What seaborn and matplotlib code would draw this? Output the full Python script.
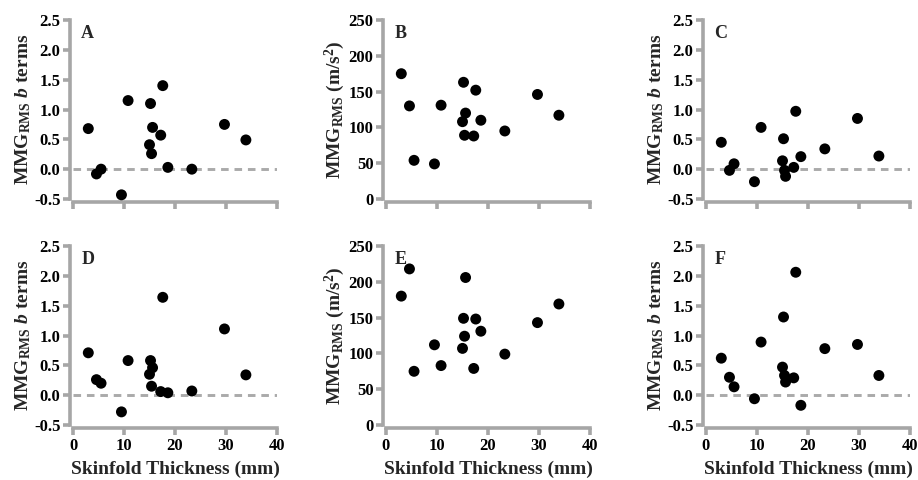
import numpy as np
import pandas as pd
import matplotlib
matplotlib.use('Agg')
import matplotlib.pyplot as plt
import seaborn as sns

# skinfold thickness (mm) of the 15 subjects
skinfold = [3.0, 4.6, 5.5, 9.5, 10.8, 15.0, 15.2, 15.4, 15.6, 17.2, 17.6, 18.6, 23.3, 29.7, 33.9]

# y values per panel (same subject order as skinfold)
a_vals = [0.68, -0.08, 0.0, -0.43, 1.15, 0.41, 1.10, 0.26, 0.70, 0.57, 1.40, 0.03, 0.0, 0.75, 0.49]
b_vals = [175, 130, 54, 49, 131, 108, 163, 89, 120, 88, 152, 110, 95, 146, 117]
c_vals = [0.45, -0.02, 0.09, -0.21, 0.70, 0.14, 0.51, -0.02, -0.12, 0.03, 0.97, 0.21, 0.34, 0.85, 0.22]
d_vals = [0.71, 0.26, 0.20, -0.28, 0.58, 0.35, 0.58, 0.15, 0.46, 0.06, 1.64, 0.04, 0.07, 1.11, 0.34]
e_vals = [180, 218, 75, 112, 83, 107, 149, 124, 206, 79, 148, 131, 99, 143, 169]
f_vals = [0.62, 0.30, 0.14, -0.06, 0.89, 0.47, 1.31, 0.33, 0.22, 0.29, 2.06, -0.17, 0.78, 0.85, 0.33]

panel_letters = ['A', 'B', 'C', 'D', 'E', 'F']
panel_vals = [a_vals, b_vals, c_vals, d_vals, e_vals, f_vals]

b_label = r'MMG$_{\rm RMS}$ $\it{b}$ terms'
acc_label = r'MMG$_{\rm RMS}$ (m/s$^{2}$)'
x_label = 'Skinfold Thickness (mm)'

sns.set_style('ticks')
plt.rcParams['font.family'] = ['Liberation Serif', 'DejaVu Serif']
plt.rcParams['font.weight'] = 'bold'
plt.rcParams['mathtext.fontset'] = 'custom'
plt.rcParams['mathtext.rm'] = 'Liberation Serif:bold'
plt.rcParams['mathtext.it'] = 'Liberation Serif:italic:bold'
plt.rcParams['mathtext.bf'] = 'Liberation Serif:bold'

grey = '#a6a6a6'

fig = plt.figure(figsize=(9.18, 4.8), dpi=100)

W, H = 918, 480
lefts = [73, 386, 706]
tops = [20, 246]
w, h = 204, 179

for i, (letter, vals) in enumerate(zip(panel_letters, panel_vals)):
    row, col = divmod(i, 3)
    l, t = lefts[col], tops[row]
    ax = fig.add_axes([l / W, (H - t - h) / H, w / W, h / H])

    df = pd.DataFrame({'skinfold': skinfold, 'val': vals})
    is_acc = col == 1

    # zero reference line only on the b-term panels
    if not is_acc:
        ax.axhline(0, color='#aaaaaa', lw=2.1, ls=(0, (2.6, 2.0)), zorder=1)
    sns.scatterplot(data=df, x='skinfold', y='val', ax=ax, color='black',
                    s=62, edgecolor='none', zorder=3, clip_on=False)

    ax.set_xlim(0, 40)
    ax.set_xticks([0, 10, 20, 30, 40])
    if is_acc:
        ax.set_ylim(0, 250)
        ax.set_yticks([0, 50, 100, 150, 200, 250])
        ax.set_ylabel(acc_label, fontsize=14, fontweight='bold', labelpad=1)
    else:
        ax.set_ylim(-0.5, 2.5)
        ax.set_yticks([-0.5, 0.0, 0.5, 1.0, 1.5, 2.0, 2.5])
        ax.set_yticklabels(['-0.5', '0.0', '0.5', '1.0', '1.5', '2.0', '2.5'])
        ax.set_ylabel(b_label, fontsize=14, fontweight='bold', labelpad=1)

    if row == 1:
        ax.set_xlabel(x_label, fontsize=14, fontweight='bold', labelpad=5)
        ax.tick_params(axis='x', labelbottom=True)
    else:
        ax.set_xlabel('')
        ax.tick_params(axis='x', labelbottom=False)

    for side in ['top', 'right']:
        ax.spines[side].set_visible(False)
    for side in ['left', 'bottom']:
        ax.spines[side].set_color(grey)
        ax.spines[side].set_linewidth(2.6)
        ax.spines[side].set_position(('outward', 2))
    ax.tick_params(colors='black', length=5, width=2.6, labelsize=12, pad=2)
    ax.tick_params(axis='both', color=grey)
    for lab in ax.get_xticklabels() + ax.get_yticklabels():
        lab.set_fontweight('bold')

    ax.text(0.04, 0.97, letter, transform=ax.transAxes, fontsize=13,
            fontweight='bold', va='top', ha='left')

fig.savefig('out.png', dpi=100)
